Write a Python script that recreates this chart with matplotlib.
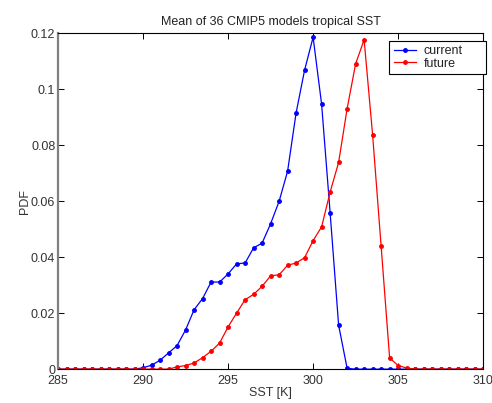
import matplotlib
matplotlib.use("Agg")
import matplotlib.pyplot as plt
import numpy as np

plt.rcParams['font.family'] = ['Liberation Sans', 'DejaVu Sans']

# SST bins (K), 0.5 K apart
sst = np.arange(285.0, 310.01, 0.5)

# PDF values, one per bin
current = [0, 0, 0, 0, 0, 0, 0, 0, 0, 0,
           0.0005, 0.0014, 0.0032, 0.0058, 0.0084, 0.0140, 0.0212, 0.0252, 0.0311, 0.0311,
           0.0340, 0.0376, 0.0379, 0.0433, 0.0450, 0.0519, 0.0599, 0.0707, 0.0915, 0.1068,
           0.1185, 0.0946, 0.0559, 0.0157, 0.0003, 0, 0, 0, 0, 0,
           0, 0, 0, 0, 0, 0, 0, 0, 0, 0, 0]
future = [0, 0, 0, 0, 0, 0, 0, 0, 0, 0,
          0, 0, 0, 0, 0.0008, 0.0013, 0.0022, 0.0041, 0.0064, 0.0093,
          0.0151, 0.0200, 0.0248, 0.0267, 0.0296, 0.0333, 0.0337, 0.0371, 0.0379, 0.0398,
          0.0459, 0.0508, 0.0632, 0.0738, 0.0930, 0.1090, 0.1176, 0.0836, 0.0439, 0.0040,
          0.0013, 0.0004, 0, 0, 0, 0, 0, 0, 0, 0, 0]

xticks = [285, 290, 295, 300, 305, 310]
yticks = [0, 0.02, 0.04, 0.06, 0.08, 0.1, 0.12]
yticklabels = ["0", "0.02", "0.04", "0.06", "0.08", "0.1", "0.12"]

fig = plt.figure(figsize=(4.92, 4.03), dpi=100)
ax = fig.add_axes([0.118, 0.084, 0.864, 0.834])

ax.plot(sst, current, color='#0000FF', marker='.', markersize=5, linewidth=0.9, label='current')
ax.plot(sst, future, color='#FF0000', marker='.', markersize=5, linewidth=0.9, label='future')

ax.set_xlim(285, 310)
ax.set_ylim(0, 0.12)
ax.set_xticks(xticks)
ax.set_yticks(yticks)
ax.set_yticklabels(yticklabels)
ax.tick_params(direction='in', top=True, right=True, labelsize=9, length=4, width=0.7,
               colors='black', labelcolor='#333333')
ax.tick_params(axis='x', pad=4)
ax.tick_params(axis='y', pad=2)

for side in ['top', 'right', 'bottom']:
    ax.spines[side].set_color('black')
    ax.spines[side].set_linewidth(0.8)
ax.spines['left'].set_color('#808080')
ax.spines['left'].set_linewidth(1.6)

ax.set_title("Mean of 36 CMIP5 models tropical SST", fontsize=9, pad=6, color='#222222')
ax.set_xlabel("SST [K]", fontsize=9, labelpad=0, color='#333333')
ax.set_ylabel("PDF", fontsize=9, labelpad=0, color='#333333')

# legend box hangs a little over the right spine, like the original
leg = ax.legend(loc='upper left', bbox_to_anchor=(0.779, 0.88, 0.228, 0.097),
                mode='expand', borderaxespad=0, fontsize=9, fancybox=False,
                framealpha=1, edgecolor='black', handlelength=1.8, borderpad=0.35,
                labelspacing=0.05, handletextpad=0.6)
leg.get_frame().set_linewidth(0.8)
for t in leg.get_texts():
    t.set_color('#222222')

fig.savefig("out.png", dpi=100)
